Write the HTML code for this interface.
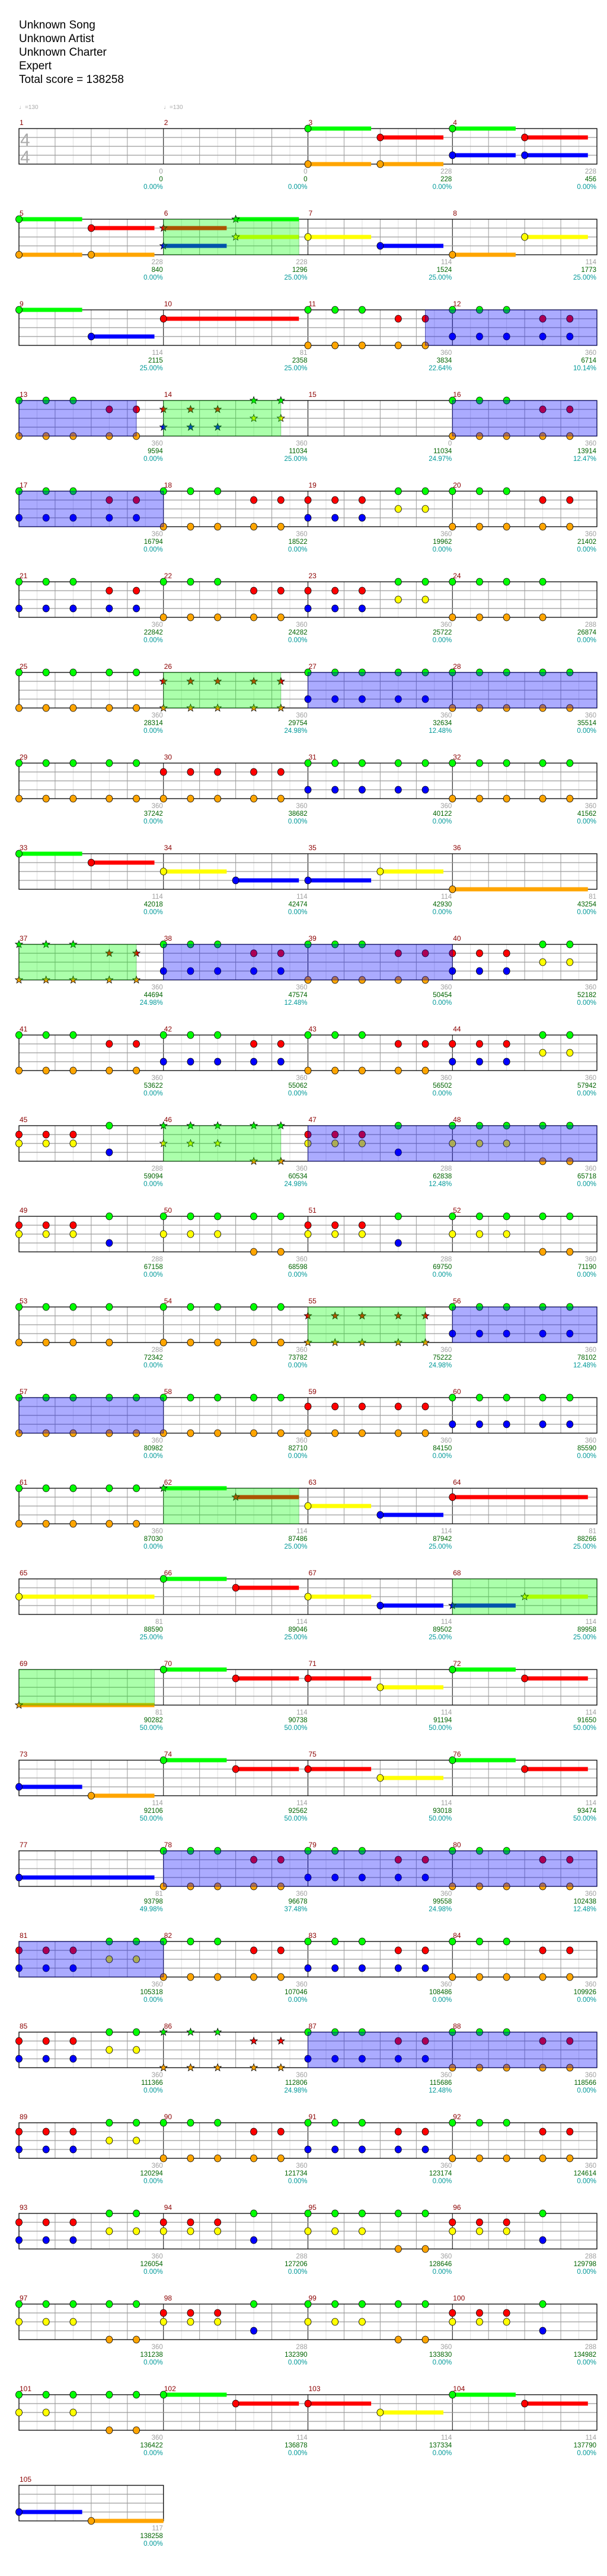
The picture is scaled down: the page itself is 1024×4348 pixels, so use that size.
<!DOCTYPE html>
<html><head><meta charset="utf-8">
<style>
html,body{margin:0;padding:0;background:#fff;}
body{width:1024px;height:4348px;overflow:hidden;position:relative;font-family:"Liberation Sans",sans-serif;}
.t{position:absolute;left:32px;font-size:19px;color:#000;line-height:23px;}
svg{position:absolute;left:0;top:0;}
</style></head><body>
<div class="t" style="top:31px">Unknown Song</div>
<div class="t" style="top:54px">Unknown Artist</div>
<div class="t" style="top:77px">Unknown Charter</div>
<div class="t" style="top:100px">Expert</div>
<div class="t" style="top:123px">Total score = 138258</div>
<svg id="s" width="1024" height="4348" xmlns="http://www.w3.org/2000/svg"></svg>
<script>
var N={
1:"",2:"",3:"g@0~7 r@8~7 o@0~7 o@8~7",4:"g@0~7 r@8~7 b@0~7 b@8~7",
5:"g@0~7 r@8~7 o@0~7 o@8~7",6:"r@0~7 b@0~7 g@8~7 y@8~7",7:"y@0~7 b@8~7",8:"o@0~7 y@8~7",
9:"g@0~7 b@8~7",10:"r@0~15",11:"go@0,3,6 ro@10,13",12:"gb@0,3,6 rb@10,13",
13:"go@0,3,6 ro@10,13",14:"rb@0,3,6 gy@10,13",15:"",16:"go@0,3,6 ro@10,13",
17:"gb@0,3,6 rb@10,13",18:"go@0,3,6 ro@10,13",19:"rb@0,3,6 gy@10,13",20:"go@0,3,6 ro@10,13",
21:"gb@0,3,6 rb@10,13",22:"go@0,3,6 ro@10,13",23:"rb@0,3,6 gy@10,13",24:"go@0,3,6,10",
25:"go@0,3,6,10,13",26:"ro@0,3,6,10,13",27:"gb@0,3,6,10,13",28:"go@0,3,6,10,13",
29:"go@0,3,6,10,13",30:"ro@0,3,6,10,13",31:"gb@0,3,6,10,13",32:"go@0,3,6,10,13",
33:"g@0~7 r@8~7",34:"y@0~7 b@8~7",35:"b@0~7 y@8~7",36:"o@0~15",
37:"go@0,3,6 ro@10,13",38:"gb@0,3,6 rb@10,13",39:"go@0,3,6 ro@10,13",40:"rb@0,3,6 gy@10,13",
41:"go@0,3,6 ro@10,13",42:"gb@0,3,6 rb@10,13",43:"go@0,3,6 ro@10,13",44:"rb@0,3,6 gy@10,13",
45:"ry@0,3,6 gb@10",46:"gy@0,3,6 go@10,13",47:"ry@0,3,6 gb@10",48:"gy@0,3,6 go@10,13",
49:"ry@0,3,6 gb@10",50:"gy@0,3,6 go@10,13",51:"ry@0,3,6 gb@10",52:"gy@0,3,6 go@10,13",
53:"go@0,3,6,10",54:"go@0,3,6,10,13",55:"ro@0,3,6,10,13",56:"gb@0,3,6,10,13",
57:"go@0,3,6,10,13",58:"go@0,3,6,10,13",59:"ro@0,3,6,10,13",60:"gb@0,3,6,10,13",
61:"go@0,3,6,10,13",62:"g@0~7 r@8~7",63:"y@0~7 b@8~7",64:"r@0~15",
65:"y@0~15",66:"g@0~7 r@8~7",67:"y@0~7 b@8~7",68:"b@0~7 y@8~7",
69:"o@0~15",70:"g@0~7 r@8~7",71:"r@0~7 y@8~7",72:"g@0~7 r@8~7",
73:"b@0~7 o@8~7",74:"g@0~7 r@8~7",75:"r@0~7 y@8~7",76:"g@0~7 r@8~7",
77:"b@0~15",78:"go@0,3,6 ro@10,13",79:"gb@0,3,6 rb@10,13",80:"go@0,3,6 ro@10,13",
81:"rb@0,3,6 gy@10,13",82:"go@0,3,6 ro@10,13",83:"gb@0,3,6 rb@10,13",84:"go@0,3,6 ro@10,13",
85:"rb@0,3,6 gy@10,13",86:"go@0,3,6 ro@10,13",87:"gb@0,3,6 rb@10,13",88:"go@0,3,6 ro@10,13",
89:"rb@0,3,6 gy@10,13",90:"go@0,3,6 ro@10,13",91:"gb@0,3,6 rb@10,13",92:"go@0,3,6 ro@10,13",
93:"rb@0,3,6 gy@10,13",94:"ry@0,3,6 gb@10",95:"gy@0,3,6 go@10,13",96:"ry@0,3,6 gb@10",
97:"gy@0,3,6 go@10,13",98:"ry@0,3,6 gb@10",99:"gy@0,3,6 go@10,13",100:"ry@0,3,6 gb@10",
101:"gy@0,3,6 go@10,13",102:"g@0~7 r@8~7",103:"r@0~7 y@8~7",104:"g@0~7 r@8~7",105:"b@0~7 o@8~8"};
var STAR={6:1,14:1,26:1,37:1,46:1,55:1,62:1,68:1,69:1,86:1};
var L="0 0 0.00%|0 0 0.00%|228 228 0.00%|228 456 0.00%|228 840 0.00%|228 1296 25.00%|114 1524 25.00%|114 1773 25.00%|114 2115 25.00%|81 2358 25.00%|360 3834 22.64%|360 6714 10.14%|360 9594 0.00%|360 11034 25.00%|0 11034 24.97%|360 13914 12.47%|360 16794 0.00%|360 18522 0.00%|360 19962 0.00%|360 21402 0.00%|360 22842 0.00%|360 24282 0.00%|360 25722 0.00%|288 26874 0.00%|360 28314 0.00%|360 29754 24.98%|360 32634 12.48%|360 35514 0.00%|360 37242 0.00%|360 38682 0.00%|360 40122 0.00%|360 41562 0.00%|114 42018 0.00%|114 42474 0.00%|114 42930 0.00%|81 43254 0.00%|360 44694 24.98%|360 47574 12.48%|360 50454 0.00%|360 52182 0.00%|360 53622 0.00%|360 55062 0.00%|360 56502 0.00%|360 57942 0.00%|288 59094 0.00%|360 60534 24.98%|288 62838 12.48%|360 65718 0.00%|288 67158 0.00%|360 68598 0.00%|288 69750 0.00%|360 71190 0.00%|288 72342 0.00%|360 73782 0.00%|360 75222 24.98%|360 78102 12.48%|360 80982 0.00%|360 82710 0.00%|360 84150 0.00%|360 85590 0.00%|360 87030 0.00%|114 87486 25.00%|114 87942 25.00%|81 88266 25.00%|81 88590 25.00%|114 89046 25.00%|114 89502 25.00%|114 89958 25.00%|81 90282 50.00%|114 90738 50.00%|114 91194 50.00%|114 91650 50.00%|114 92106 50.00%|114 92562 50.00%|114 93018 50.00%|114 93474 50.00%|81 93798 49.98%|360 96678 37.48%|360 99558 24.98%|360 102438 12.48%|360 105318 0.00%|360 107046 0.00%|360 108486 0.00%|360 109926 0.00%|360 111366 0.00%|360 112806 24.98%|360 115686 12.48%|360 118566 0.00%|360 120294 0.00%|360 121734 0.00%|360 123174 0.00%|360 124614 0.00%|360 126054 0.00%|288 127206 0.00%|360 128646 0.00%|288 129798 0.00%|360 131238 0.00%|288 132390 0.00%|360 133830 0.00%|288 134982 0.00%|360 136422 0.00%|114 136878 0.00%|114 137334 0.00%|114 137790 0.00%|117 138258 0.00%".split("|");
var BLUE=[[11,13,13,13],[16,0,18,0],[27,0,29,0],[38,0,40,0],[47,0,49,0],[56,0,58,0],[78,0,82,0],[87,0,89,0]];
var GREEN=[[6,0,6,15],[14,0,14,13],[26,0,26,13],[37,0,37,13],[46,0,46,13],[55,0,55,13],[62,0,62,15],[68,0,69,15]];
var COL={g:"#00ff00",r:"#ff0000",y:"#ffff00",b:"#0000ff",o:"#ffa500"};
var LANE={g:0,r:1,y:2,b:3,o:4};
var MW=243.75,SX=MW/16,RH=153,T0=217;
var h=[];
function mx(m){return 32+((m-1)%4)*MW;}
function mt(m){return T0+Math.floor((m-1)/4)*RH;}
function star(cx,cy,r,f){var p=[];for(var i=0;i<10;i++){var a=-Math.PI/2+i*Math.PI/5,rr=i%2?r*0.42:r;p.push((cx+rr*Math.cos(a)).toFixed(1)+","+(cy+rr*Math.sin(a)).toFixed(1));}
return '<polygon points="'+p.join(" ")+'" fill="'+f+'" stroke="#000" stroke-width="0.8"/>';}
// tempo
h.push('<text x="32" y="184" font-size="10" fill="#aaa">&#9833;=130</text><text x="276" y="184" font-size="10" fill="#aaa">&#9833;=130</text>');
var rows=Math.ceil(105/4);
for(var r=0;r<rows;r++){
 var T=T0+r*RH,nm=Math.min(4,105-r*4),W=nm*MW;
 h.push('<rect x="32" y="'+T+'" width="'+W+'" height="60" fill="#fff"/>');
 for(var c=0;c<nm;c++){var x0=32+c*MW;
  for(var k=1;k<8;k++){var x=x0+k*MW/8;h.push('<line x1="'+x+'" y1="'+T+'" x2="'+x+'" y2="'+(T+60)+'" stroke="'+(k%2?"#dedede":"#9a9a9a")+'" stroke-width="1"/>');}
  if(c>0)h.push('<line x1="'+x0+'" y1="'+T+'" x2="'+x0+'" y2="'+(T+60)+'" stroke="#000" stroke-width="1"/>');
 }
 for(var l=1;l<4;l++)h.push('<line x1="32" y1="'+(T+l*15)+'" x2="'+(32+W)+'" y2="'+(T+l*15)+'" stroke="#9a9a9a" stroke-width="1.3"/>');
 h.push('<rect x="32" y="'+T+'" width="'+W+'" height="60" fill="none" stroke="#000" stroke-width="1.3"/>');
}
h.push('<text x="34" y="246" font-size="30" fill="#aaa">4</text><text x="34" y="275" font-size="30" fill="#aaa">4</text>');
// notes
for(var m=1;m<=105;m++){
 var x0=mx(m),T=mt(m),toks=N[m].split(" ").filter(Boolean),sus=[],heads=[];
 toks.forEach(function(tk){var a=tk.split("@"),lanes=a[0],rest=a[1].split("~"),len=rest[1]?+rest[1]:0;
  rest[0].split(",").forEach(function(p){lanes.split("").forEach(function(ln){
   var x=x0+(+p)*SX,y=T+LANE[ln]*15;
   if(len)sus.push('<rect x="'+x+'" y="'+(y-3.5)+'" width="'+(len*SX)+'" height="7" fill="'+COL[ln]+'"/>');
   heads.push(STAR[m]?star(x,y,6.5,COL[ln]):'<ellipse cx="'+x+'" cy="'+y+'" rx="5.5" ry="6" fill="'+COL[ln]+'" stroke="#000" stroke-width="0.8"/>');
  });});});
 h.push(sus.join("")+heads.join(""));
 h.push('<text x="'+(x0+1)+'" y="'+(T-6)+'" font-size="12" fill="#8b0000">'+m+'</text>');
 var lb=L[m-1].split(" "),xe=x0+MW-1;
 h.push('<text x="'+xe+'" y="'+(T+76)+'" font-size="11.5" fill="#a0a0a0" text-anchor="end">'+lb[0]+'</text>');
 h.push('<text x="'+xe+'" y="'+(T+89)+'" font-size="11.5" fill="#006400" text-anchor="end">'+lb[1]+'</text>');
 h.push('<text x="'+xe+'" y="'+(T+102)+'" font-size="11.5" fill="#009999" text-anchor="end">'+lb[2]+'</text>');
}
// regions
function region(a,fill,stroke){var g0=(a[0]-1)*16+a[1],g1=(a[2]-1)*16+a[3];
 while(g0<g1){var r=Math.floor(g0/64),rowEnd=(r+1)*64,e=Math.min(g1,rowEnd);
  var x=32+(g0-r*64)*SX,w=(e-g0)*SX,T=T0+r*RH;
  h.push('<rect x="'+x+'" y="'+T+'" width="'+w+'" height="60" fill="'+fill+'" stroke="'+stroke+'" stroke-width="1"/>');g0=e;}}
BLUE.forEach(function(a){region(a,"rgba(0,0,255,0.33)","rgba(0,0,128,0.6)");});
GREEN.forEach(function(a){region(a,"rgba(0,255,0,0.33)","rgba(0,128,0,0.35)");});
document.getElementById("s").innerHTML=h.join("");
</script>
</body></html>
